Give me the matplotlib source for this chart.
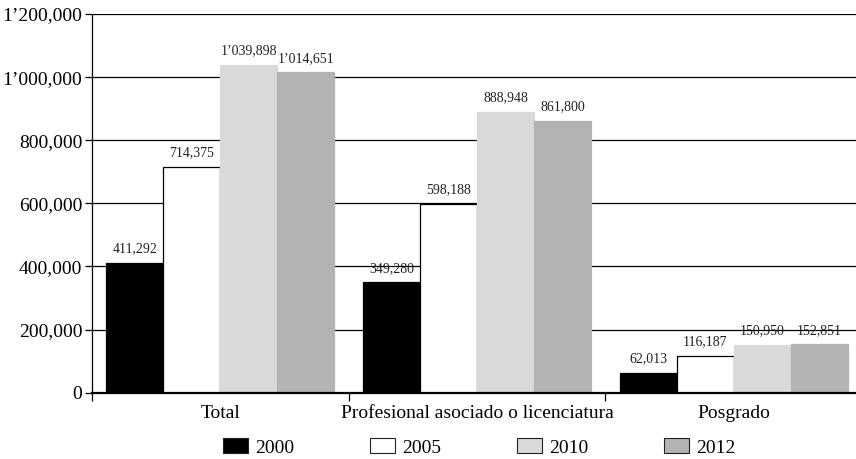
import matplotlib.pyplot as plt
import numpy as np
from matplotlib.patches import Patch
from matplotlib.ticker import FuncFormatter, FixedLocator

categories = ["Total", "Profesional asociado o licenciatura", "Posgrado"]
years = ["2000", "2005", "2010", "2012"]
values_2000 = [411292, 349280, 62013]
values_2005 = [714375, 598188, 116187]
values_2010 = [1039898, 888948, 150950]
values_2012 = [1014651, 861800, 152851]
y_ticks = [0, 200000, 400000, 600000, 800000, 1000000, 1200000]

series = [values_2000, values_2005, values_2010, values_2012]
face_colors = ["#000000", "#ffffff", "#d9d9d9", "#b3b3b3"]
edge_colors = ["#000000", "#000000", "#d9d9d9", "#b3b3b3"]

plt.rcParams["font.family"] = ["Liberation Serif", "DejaVu Serif"]


def fmt_num(v):
    """Thousands with comma, millions with a right quote: 1’200,000."""
    s = f"{int(round(v)):,}"
    if s.count(",") == 2:
        s = s.replace(",", "\u2019", 1)
    return s


fig = plt.figure(figsize=(8.56, 4.59), dpi=100)
ax = fig.add_axes([92 / 856, 1 - 392.7 / 459, 770 / 856, (392.7 - 14) / 459])

x = np.arange(len(categories))
width = 0.222
offsets = (np.arange(len(years)) - 1.5) * width

for vals, off, fc, ec in zip(series, offsets, face_colors, edge_colors):
    bars = ax.bar(x + off, vals, width, color=fc, edgecolor=ec, linewidth=0.9, zorder=2)
    for b, v in zip(bars, vals):
        ax.annotate(
            fmt_num(v),
            (b.get_x() + b.get_width() / 2, v),
            xytext=(0, 5.5),
            textcoords="offset points",
            ha="center",
            va="bottom",
            fontsize=10,
            color="#222222",
        )

ax.set_ylim(0, 1200000)
ax.set_xlim(-0.5, 2.5)
ax.yaxis.set_major_locator(FixedLocator(y_ticks))
ax.yaxis.set_major_formatter(FuncFormatter(lambda v, p: fmt_num(v)))
ax.grid(axis="y", color="#000000", linewidth=0.9, zorder=0)
ax.set_axisbelow(True)

# category boundaries get tick marks, labels sit on the minor ticks
ax.set_xticks([-0.5, 0.5, 1.5, 2.5])
ax.set_xticklabels([])
ax.set_xticks(x, minor=True)
ax.set_xticklabels(categories, minor=True, fontsize=14)
ax.tick_params(axis="x", which="major", length=6, width=0.9, direction="out")
ax.tick_params(axis="x", which="minor", length=0, pad=8.5)
ax.tick_params(axis="y", length=5, width=0.9, labelsize=14, pad=2)

for side in ["top", "right"]:
    ax.spines[side].set_visible(False)
ax.spines["left"].set_linewidth(0.9)
ax.spines["bottom"].set_linewidth(1.6)

handles = [
    Patch(facecolor=fc, edgecolor="#222222", linewidth=0.8) for fc in face_colors
]
fig.legend(
    handles,
    years,
    loc="center",
    bbox_to_anchor=(479 / 856, 1 - 447.5 / 459),
    ncol=4,
    frameon=False,
    fontsize=14,
    handlelength=1.29,
    handleheight=0.77,
    handletextpad=0.36,
    columnspacing=3.9,
)

fig.savefig("out.png", dpi=100)
